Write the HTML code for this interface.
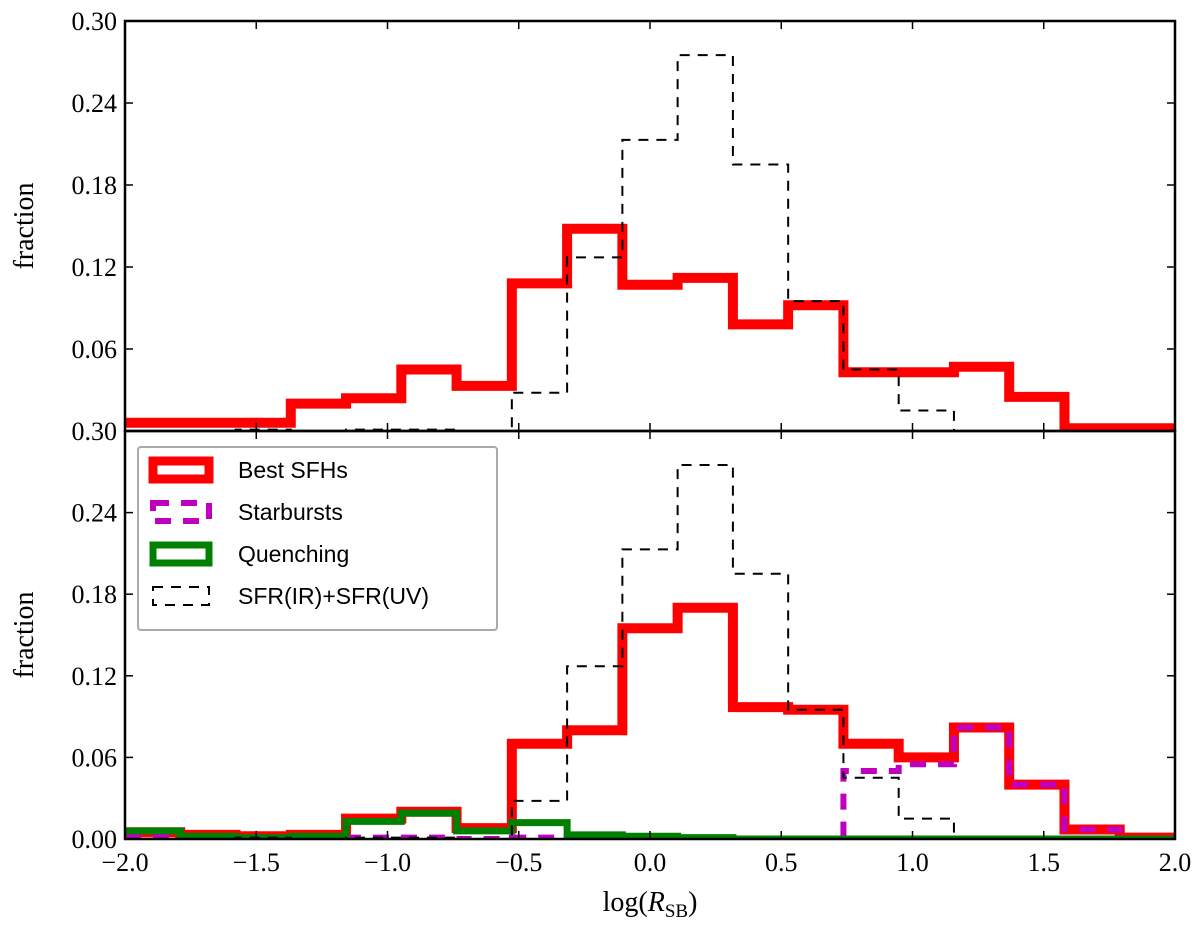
<!DOCTYPE html>
<html><head><meta charset="utf-8"><style>
html,body{margin:0;padding:0;background:#fff;}
svg text{font-family:"Liberation Serif",serif;}
</style></head><body>
<svg id="chart" width="1200" height="933" xmlns="http://www.w3.org/2000/svg"></svg>
<script>
// bins: 19 equal bins from -2 to 2
const binStart = -2, binEnd = 2, nBins = 19;
const topBest = [0.006,0.006,0.006,0.020,0.024,0.045,0.033,0.108,0.148,0.107,0.112,0.078,0.092,0.043,0.043,0.047,0.025,0.002,0.002];
const irUv = [0.000,0.000,0.001,0.000,0.001,0.001,0.000,0.028,0.127,0.213,0.275,0.195,0.095,0.045,0.015,0.000,0.000,0.000,0.000];
const botBest = [0.005,0.003,0.002,0.003,0.015,0.020,0.008,0.070,0.080,0.155,0.170,0.097,0.095,0.070,0.060,0.082,0.040,0.007,0.001];
const starbursts = [0.002,0.000,0.000,0.000,0.001,0.001,0.000,0.001,0.000,0.000,0.000,0.000,0.000,0.050,0.055,0.082,0.040,0.007,0.000];
const quenching = [0.006,0.002,0.001,0.002,0.013,0.019,0.006,0.012,0.003,0.002,0.001,0.000,0.000,0.000,0.000,0.000,0.000,0.000,0.000];
const xTicks = [-2.0,-1.5,-1.0,-0.5,0.0,0.5,1.0,1.5,2.0];
const xTickLabels = ["\u22122.0","\u22121.5","\u22121.0","\u22120.5","0.0","0.5","1.0","1.5","2.0"];
const yTicks = [0,0.06,0.12,0.18,0.24,0.30];
const yTickLabelsTop = ["0.30","0.06","0.12","0.18","0.24","0.30"];
const yTickLabelsBot = ["0.00","0.06","0.12","0.18","0.24",""];

const NS="http://www.w3.org/2000/svg";
const svg=document.getElementById('chart');
const X0=125,X1=1175;
const xs=v=>X0+(v-binStart)/(binEnd-binStart)*(X1-X0);
function mk(tag,attrs,parent){const e=document.createElementNS(NS,tag);for(const k in attrs)e.setAttribute(k,attrs[k]);(parent||svg).appendChild(e);return e;}

const panels=[{top:21,bot:431,name:'top'},{top:431,bot:839,name:'bottom'}];
function ysOf(p){return v=>p.bot-v/0.30*(p.bot-p.top);}

function stepPath(vals,ys){
  const w=(binEnd-binStart)/nBins;
  let d='';
  vals.forEach((v,i)=>{
    const a=xs(binStart+i*w),b=xs(binStart+(i+1)*w),y=ys(v);
    d+=(i===0?'M':'L')+a+','+y+'L'+b+','+y;
  });
  return d;
}

panels.forEach((p,pi)=>{
  const ys=ysOf(p);
  const clip=mk('clipPath',{id:'clip'+pi});
  mk('rect',{x:X0,y:p.top,width:X1-X0,height:p.bot-p.top},clip);
  const g=mk('g',{'clip-path':'url(#clip'+pi+')'});
  
  
  const add=(vals,stroke,w,dash,name)=>{const e=mk('path',{d:stepPath(vals,ys),fill:'none',stroke:stroke,'stroke-width':w,'stroke-dasharray':dash||'none'},g);};
  if(pi===0){
    add(topBest,'#ff0000',10,null,'top-best-sfhs-line');
    add(irUv,'#000',2,'10,8','top-sfr-ir-uv-line');
  } else {
    add(botBest,'#ff0000',10,null,'bottom-best-sfhs-line');
    add(starbursts,'#bf00bf',6,'16,12','starbursts-line');
    add(quenching,'#008000',7,null,'quenching-line');
    add(irUv,'#000',2,'10,8','bottom-sfr-ir-uv-line');
  }
  xTicks.forEach((t,i)=>{
    const x=xs(t);
    mk('line',{x1:x,x2:x,y1:p.bot,y2:p.bot-8,stroke:'#000','stroke-width':1.5});
    mk('line',{x1:x,x2:x,y1:p.top,y2:p.top+8,stroke:'#000','stroke-width':1.5});
  });
  yTicks.forEach((t,i)=>{
    const y=ys(t);
    mk('line',{x1:X0,x2:X0+8,y1:y,y2:y,stroke:'#000','stroke-width':1.5});
    mk('line',{x1:X1,x2:X1-8,y1:y,y2:y,stroke:'#000','stroke-width':1.5});
    const lab=(pi===0?yTickLabelsTop:yTickLabelsBot)[i];
    if(lab){const tx=mk('text',{x:X0-8,y:y+9,'text-anchor':'end','font-size':26});tx.textContent=lab;
      }
  });
  const fr=mk('rect',{x:X0,y:p.top,width:X1-X0,height:p.bot-p.top,fill:'none',stroke:'#000','stroke-width':2.5});
  
  const yl=mk('text',{x:0,y:0,'text-anchor':'middle','font-size':28,transform:'translate(33,'+((p.top+p.bot)/2)+') rotate(-90)'});
  yl.textContent='fraction';
  
});
xTicks.forEach((t,i)=>{
  const tx=mk('text',{x:xs(t),y:871,'text-anchor':'middle','font-size':26});
  tx.textContent=xTickLabels[i];
  
});
const xt=mk('text',{x:650,y:911,'text-anchor':'middle','font-size':28});
xt.innerHTML='log(<tspan font-style="italic">R</tspan><tspan font-size="19" dy="6">SB</tspan><tspan dy="-6">)</tspan>';


const lg=mk('g',{});

mk('rect',{x:138,y:447,width:359,height:183,fill:'#fff',stroke:'#aaa','stroke-width':2,rx:3},lg);
const entries=[['Best SFHs','#ff0000',9,null],['Starbursts','#bf00bf',6,'16,12'],['Quenching','#008000',7,null],['SFR(IR)+SFR(UV)','#000',2,'10,8']];
entries.forEach((e,i)=>{
  const cy=470+i*42;
  const r=mk('rect',{x:153,y:cy-9,width:56,height:18,fill:'none',stroke:e[1],'stroke-width':e[2],'stroke-dasharray':e[3]||'none'},lg);
  
  const t=mk('text',{x:238,y:cy+8,'font-size':23,style:'font-family:"Liberation Sans",sans-serif'},lg);
  t.textContent=e[0];
  
});
</script>
</body></html>
